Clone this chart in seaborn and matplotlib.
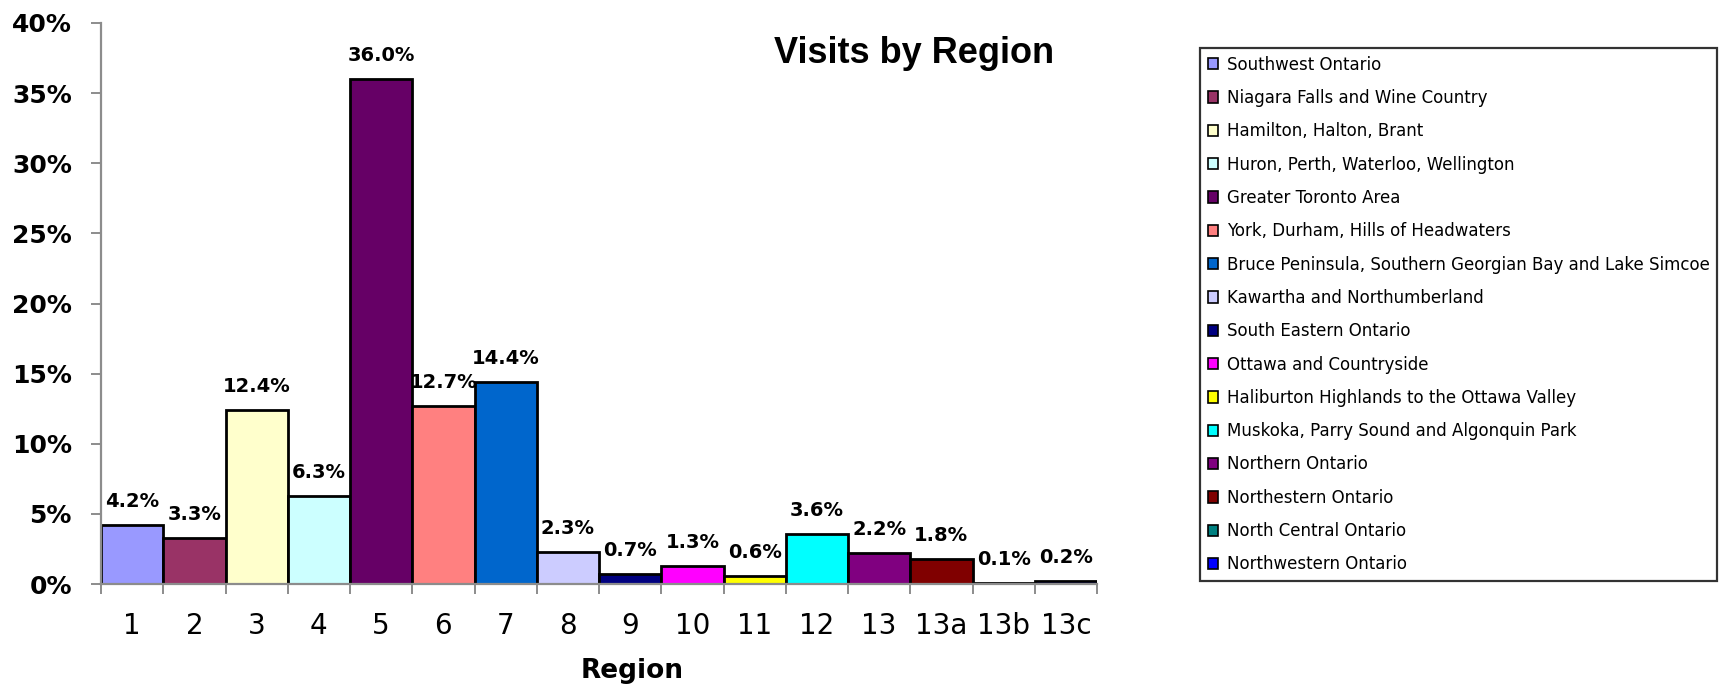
import matplotlib
matplotlib.use("Agg")
import matplotlib.pyplot as plt
from matplotlib.patches import Patch
from matplotlib.ticker import FuncFormatter, FixedLocator
import seaborn as sns

# Share of visits per tourism region (percent)
regions = ["1", "2", "3", "4", "5", "6", "7", "8", "9", "10",
           "11", "12", "13", "13a", "13b", "13c"]
visits_pct = [4.2, 3.3, 12.4, 6.3, 36.0, 12.7, 14.4, 2.3, 0.7, 1.3,
              0.6, 3.6, 2.2, 1.8, 0.1, 0.2]
region_names = [
    "Southwest Ontario",
    "Niagara Falls and Wine Country",
    "Hamilton, Halton, Brant",
    "Huron, Perth, Waterloo, Wellington",
    "Greater Toronto Area",
    "York, Durham, Hills of Headwaters",
    "Bruce Peninsula, Southern Georgian Bay and Lake Simcoe",
    "Kawartha and Northumberland",
    "South Eastern Ontario",
    "Ottawa and Countryside",
    "Haliburton Highlands to the Ottawa Valley",
    "Muskoka, Parry Sound and Algonquin Park",
    "Northern Ontario",
    "Northestern Ontario",
    "North Central Ontario",
    "Northwestern Ontario",
]
bar_colors = ["#9999FF", "#993366", "#FFFFCC", "#CCFFFF", "#660066", "#FF8080",
              "#0066CC", "#CCCCFF", "#000080", "#FF00FF", "#FFFF00", "#00FFFF",
              "#800080", "#800000", "#008080", "#0000FF"]
y_ticks = [0, 5, 10, 15, 20, 25, 30, 35, 40]

sns.set_theme(style="white")
plt.rcParams["font.family"] = ["DejaVu Sans"]
plt.rcParams["text.color"] = "black"
plt.rcParams["axes.labelcolor"] = "black"
plt.rcParams["xtick.color"] = "black"
plt.rcParams["ytick.color"] = "black"

W, H = 1723, 686
fig = plt.figure(figsize=(W / 100, H / 100), dpi=100)
ax = fig.add_axes([101 / W, 1 - 584 / H, 996 / W, 561 / H])

sns.barplot(x=regions, y=visits_pct, hue=regions, palette=bar_colors,
            width=1.0, edgecolor="black", linewidth=2, legend=False,
            saturation=1, ax=ax)

for container, val in zip(ax.containers, visits_pct):
    ax.bar_label(container, labels=[f"{val:.1f}%"], padding=10,
                 fontsize=14, fontweight="bold", color="black")

# Axes styling
axis_gray = "#8C8C8C"
ax.set_xlim(-0.5, len(regions) - 0.5)
ax.set_ylim(0, 40)
ax.yaxis.set_major_locator(FixedLocator(y_ticks))
ax.yaxis.set_major_formatter(FuncFormatter(lambda v, p: f"{v:.0f}%"))
for side in ("top", "right"):
    ax.spines[side].set_visible(False)
for side in ("left", "bottom"):
    ax.spines[side].set_color(axis_gray)
    ax.spines[side].set_linewidth(1.6)

ax.tick_params(axis="y", which="major", direction="out", length=7,
               width=1.4, color=axis_gray, labelcolor="black", pad=14,
               labelsize=18, left=True)
for lbl in ax.get_yticklabels():
    lbl.set_fontweight("bold")

ax.xaxis.set_minor_locator(FixedLocator([i - 0.5 for i in range(len(regions) + 1)]))
ax.tick_params(axis="x", which="major", length=0, pad=20, labelsize=20,
               labelcolor="black", bottom=True)
ax.tick_params(axis="x", which="minor", direction="out", length=7,
               width=1.4, color=axis_gray, bottom=True)
ax.set_xlabel("")
ax.set_ylabel("")
ax.grid(False)

# Titles
fig.text(914 / W, 1 - 63 / H, "Visits by Region", ha="center", va="baseline",
         fontsize=26, fontweight="bold", color="black",
         family=["Liberation Sans"])
fig.text(632 / W, 1 - 678 / H, "Region", ha="center", va="baseline",
         fontsize=19, fontweight="bold", color="black")

# Legend
handles = [Patch(facecolor=c, edgecolor="black", linewidth=1.2)
           for c in bar_colors]
leg = fig.legend(handles, region_names, loc="upper left",
                 bbox_to_anchor=(1200 / W, 1 - 48 / H), borderaxespad=0,
                 fontsize=12, frameon=True, fancybox=False,
                 handlelength=0.65, handleheight=0.65, handletextpad=0.5,
                 labelspacing=0.92, borderpad=0.45, labelcolor="black")
leg.get_frame().set_edgecolor("black")
leg.get_frame().set_linewidth(1.6)

fig.savefig("out.png", dpi=100, facecolor="white")
